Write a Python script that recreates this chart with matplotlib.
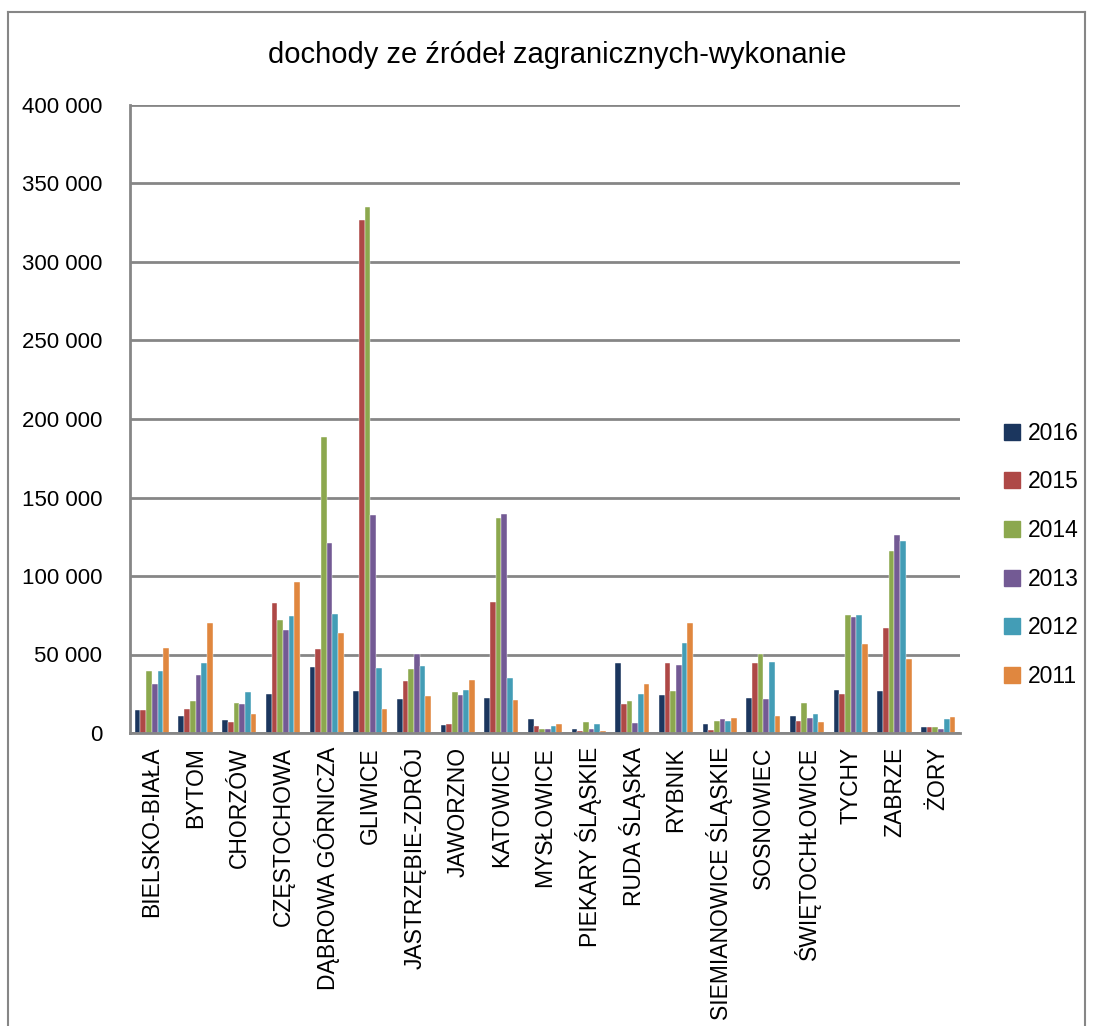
import matplotlib
matplotlib.use("Agg")
import matplotlib.pyplot as plt
import numpy as np
from matplotlib.lines import Line2D
from matplotlib.ticker import FuncFormatter

plt.rcParams['font.family'] = ['Liberation Sans', 'DejaVu Sans']

categories = ["BIELSKO-BIAŁA", "BYTOM", "CHORZÓW", "CZĘSTOCHOWA", "DĄBROWA GÓRNICZA",
              "GLIWICE", "JASTRZĘBIE-ZDRÓJ", "JAWORZNO", "KATOWICE", "MYSŁOWICE",
              "PIEKARY ŚLĄSKIE", "RUDA ŚLĄSKA", "RYBNIK", "SIEMIANOWICE ŚLĄSKIE",
              "SOSNOWIEC", "ŚWIĘTOCHŁOWICE", "TYCHY", "ZABRZE", "ŻORY"]
years = ["2016", "2015", "2014", "2013", "2012", "2011"]

v2016 = [14700, 10900, 8500, 24700, 42100, 26800, 21700, 5300, 22300, 8900,
         2600, 44700, 24000, 5500, 22300, 10600, 27500, 26600, 3600]
v2015 = [14700, 15300, 7000, 82600, 53800, 327000, 33200, 5500, 83600, 4500,
         1100, 18500, 44300, 2100, 44900, 7400, 24700, 67000, 3600]
v2014 = [39400, 20400, 19200, 72100, 188500, 335300, 40900, 26200, 136800, 2800,
         6800, 20600, 26800, 7700, 50200, 19200, 74900, 116200, 3600]
v2013 = [31300, 37000, 18500, 65500, 121300, 138700, 50600, 24000, 139200, 2600,
         2800, 6200, 43600, 8900, 21900, 9800, 74100, 126000, 2600]
v2012 = [39400, 44300, 26200, 74700, 75500, 41700, 42800, 27500, 35100, 4300,
         5700, 25100, 57200, 7700, 45300, 12300, 74900, 122400, 8700]
v2011 = [54300, 70200, 12100, 96000, 63400, 15100, 23600, 33800, 21100, 5500,
         1500, 31300, 70200, 9800, 10900, 7000, 56400, 47000, 10200]

series = [v2016, v2015, v2014, v2013, v2012, v2011]
colors = ["#1B365E", "#AE4846", "#8CA84E", "#735A94", "#439DB6", "#E0873F"]

W, H = 1093, 1026
fig = plt.figure(figsize=(W / 100, H / 100), dpi=100)
ax = fig.add_axes([130 / W, 1 - 733 / H, (960 - 130) / W, (733 - 105) / H])

n = len(categories)
x = np.arange(n)
bw = 0.78 / 6
for i, (vals, c) in enumerate(zip(series, colors)):
    ax.bar(x - 0.39 + bw * (i + 0.5), vals, width=bw, color=c,
           edgecolor="white", linewidth=0.3, label=years[i], zorder=2)

ax.set_xlim(-0.5, n - 0.5)
ax.set_ylim(0, 400000)
ax.set_yticks(np.arange(0, 400001, 50000))
ax.yaxis.set_major_formatter(FuncFormatter(lambda v, p: f"{int(v):,}".replace(",", " ")))
ax.grid(axis="y", color="#868686", linewidth=2, zorder=0)
ax.set_axisbelow(True)
for s in ["top", "right"]:
    ax.spines[s].set_visible(False)
for s in ["left", "bottom"]:
    ax.spines[s].set_color("#868686")
    ax.spines[s].set_linewidth(2)
    ax.spines[s].set_zorder(4)
ax.tick_params(axis="y", length=0, pad=20, labelsize=16)
ax.set_xticks(x)
ax.set_xticklabels(categories, rotation=90, fontsize=16.5, va="top", ha="center")
ax.tick_params(axis="x", length=0, pad=10)

fig.text(557 / W, 1 - 55 / H, "dochody ze źródeł zagranicznych-wykonanie",
         ha="center", va="center", fontsize=21)

handles = [Line2D([], [], marker="s", linestyle="none", markersize=11,
                  markerfacecolor=c, markeredgecolor=c) for c in colors]
fig.legend(handles, years, loc="center left", bbox_to_anchor=(982 / W, 1 - 555 / H),
           frameon=False, fontsize=16.5, handlelength=0.8, handletextpad=0.3,
           labelspacing=1.12)

# outer chart border
for xs, ys in [((8, 8), (12, H + 5)), ((8, 1085), (12, 12)), ((1085, 1085), (12, H + 5))]:
    fig.add_artist(Line2D([v / W for v in xs], [1 - v / H for v in ys],
                          color="#868686", linewidth=1.5, transform=fig.transFigure))

fig.savefig("out.png", dpi=100)
